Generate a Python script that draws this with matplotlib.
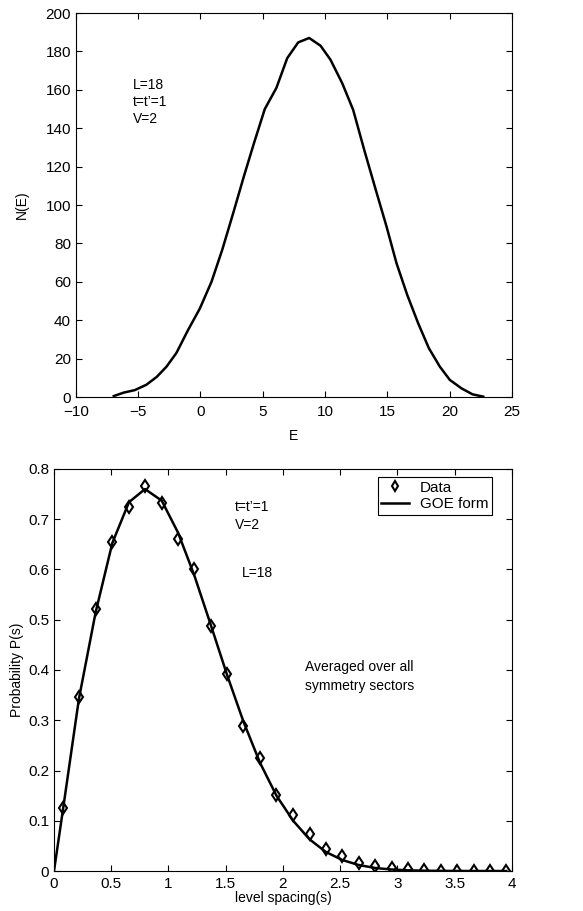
import matplotlib
matplotlib.use("Agg")
import matplotlib.pyplot as plt

plt.rcParams['font.family'] = ['Liberation Sans', 'DejaVu Sans']

# density of states N(E)
energia = [-6.95, -6.15, -5.26, -4.33, -3.5, -2.72, -1.92, -0.98, -0.05, 0.89,
           1.75, 2.63, 3.49, 4.29, 5.17, 6.1, 6.97, 7.85, 8.73, 9.64,
           10.44, 11.38, 12.26, 13.15, 14.0, 14.94, 15.74, 16.6, 17.48, 18.34,
           19.22, 20.02, 20.96, 21.84, 22.7]
n_e = [0.5, 2.3, 3.6, 6.4, 10.5, 15.8, 23, 35, 46, 60,
       76.6, 95.7, 114.9, 132, 150, 161, 176.5, 184.7, 187, 183,
       175.7, 163.5, 149.6, 128.7, 109.6, 88.8, 69.7, 53.2, 38.4, 25.4,
       15.8, 8.9, 4.5, 1.4, 0.2]

# level spacing distribution
s_datos = [0.079, 0.218, 0.364, 0.51, 0.655, 0.795, 0.941, 1.084, 1.226, 1.369,
           1.512, 1.655, 1.80, 1.943, 2.089, 2.232, 2.374, 2.517, 2.66, 2.806,
           2.948, 3.09, 3.234, 3.376, 3.522, 3.665, 3.808, 3.95]
p_datos = [0.1245, 0.346, 0.521, 0.655, 0.725, 0.766, 0.732, 0.660, 0.601, 0.488,
           0.393, 0.288, 0.2245, 0.152, 0.111, 0.074, 0.043, 0.029, 0.016, 0.009,
           0.005, 0.003, 0.002, 0.001, 0.001, 0.0005, 0.0005, 0.0005]
s_goe = [0.0] + s_datos
p_goe = [0.0, 0.123, 0.343, 0.515, 0.653, 0.734, 0.760, 0.737, 0.673, 0.588, 0.490,
         0.390, 0.297, 0.215, 0.150, 0.100, 0.063, 0.038, 0.022, 0.012, 0.006,
         0.003, 0.0014, 0.0006, 0.0003, 0.0001, 0.0, 0.0, 0.0]

fig = plt.figure(figsize=(5.83, 9.11), dpi=100)
ax1 = fig.add_axes([0.130, 0.5642, 0.748, 0.4215])
ax2 = fig.add_axes([0.0926, 0.0439, 0.7856, 0.4413])

for ax in (ax1, ax2):
    ax.tick_params(direction='in', top=True, right=True, labelsize=11, length=4)
    ax.tick_params(axis='x', pad=4)
    for sp in ax.spines.values():
        sp.set_linewidth(0.8)
ax1.tick_params(axis='x', pad=6)

##### N(E) #####
ax1.plot(energia, n_e, color='black', lw=1.8)
ax1.set_xlim(-10, 25)
ax1.set_ylim(0, 200)
ax1.set_xticks(range(-10, 26, 5))
ax1.set_xticklabels(['\u221210', '\u22125', '0', '5', '10', '15', '20', '25'])
ax1.set_yticks(range(0, 201, 20))
ax1.set_xlabel('E', fontsize=10, labelpad=7)
ax1.set_ylabel('N(E)', fontsize=10, labelpad=12)
ax1.text(-5.4, 162.3, 'L=18', fontsize=10, va='center')
ax1.text(-5.4, 153.6, "t=t\u2019=1", fontsize=10, va='center')
ax1.text(-5.4, 144.7, 'V=2', fontsize=10, va='center')

##### P(s) #####
ax2.plot(s_datos, p_datos, linestyle='none', marker='d', markersize=6.5,
         markerfacecolor='white', markeredgecolor='black', markeredgewidth=1.5,
         label='Data')
ax2.plot(s_goe, p_goe, color='black', lw=1.8, label='GOE form')
ax2.set_xlim(0, 4)
ax2.set_ylim(0, 0.8)
ax2.set_xticks([0, 0.5, 1, 1.5, 2, 2.5, 3, 3.5, 4])
ax2.set_xticklabels(['0', '0.5', '1', '1.5', '2', '2.5', '3', '3.5', '4'])
ax2.set_yticks([0, 0.1, 0.2, 0.3, 0.4, 0.5, 0.6, 0.7, 0.8])
ax2.set_yticklabels(['0', '0.1', '0.2', '0.3', '0.4', '0.5', '0.6', '0.7', '0.8'])
ax2.set_xlabel('level spacing(s)', fontsize=10, labelpad=0)
ax2.set_ylabel('Probability P(s)', fontsize=10, labelpad=3)
ax2.text(1.579, 0.7245, "t=t\u2019=1", fontsize=10, va='center')
ax2.text(1.579, 0.689, 'V=2', fontsize=10, va='center')
ax2.text(1.637, 0.593, 'L=18', fontsize=10, va='center')
ax2.text(2.19, 0.4066, 'Averaged over all', fontsize=10, va='center')
ax2.text(2.19, 0.368, 'symmetry sectors', fontsize=10, va='center')

leg = ax2.legend(loc='upper right', bbox_to_anchor=(0.956, 0.980),
                 fontsize=11, fancybox=False, framealpha=1,
                 edgecolor='black', borderaxespad=0, handlelength=1.8,
                 borderpad=0.25, labelspacing=0.15, markerscale=0.75,
                 handletextpad=0.7)
leg.get_frame().set_linewidth(0.8)

fig.savefig('out.png', dpi=100)
